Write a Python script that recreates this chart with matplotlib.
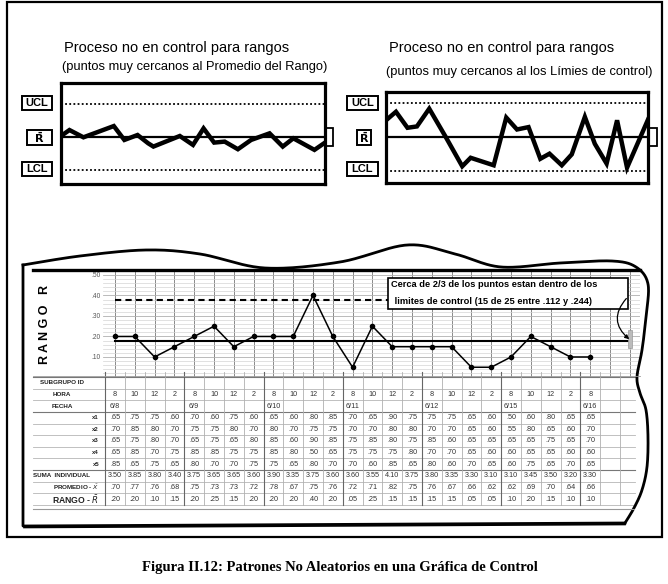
import matplotlib
matplotlib.use("Agg")
import matplotlib.pyplot as plt
from matplotlib.patches import Rectangle, FancyArrowPatch
import numpy as np

W, H = 668, 584
NARROW = ["Liberation Sans Narrow", "Liberation Sans", "DejaVu Sans"]
SANS = ["Liberation Sans", "DejaVu Sans"]
SERIF = ["Liberation Serif", "DejaVu Serif"]

# --- top sketches: position along the chart (0-100) and offset from R-bar (UCL = +1, LCL = -1)
tl_pos = [0, 3.2, 8.5, 20, 24, 29, 33, 35, 45, 50, 54, 58, 62, 67, 72, 79, 84, 88, 96, 100]
tl_val = [0.02, 0.20, -0.02, 0.32, -0.10, 0.05, -0.20, -0.30, 0.02, -0.25,
          0.25, -0.18, -0.15, -0.38, -0.10, 0.10, -0.30, -0.05, -0.40, -0.18]
tr_pos = [0, 3.8, 8.2, 11.8, 16.5, 22.8, 29.1, 32.3, 41.1, 45.9, 50, 54.4,
          58.9, 62.4, 67.1, 70.9, 75.9, 79.7, 84.2, 88.2, 92, 100]
tr_val = [0.49, 0.74, 0.27, 0.31, 0.83, 0.0, -0.86, -0.61, -0.83, 0.57, 0.22, 0.29,
          -0.64, -0.49, -0.83, -0.51, 0.59, -0.20, -0.78, 0.49, -0.90, 0.51]

# --- range chart data table
hora = ["8", "10", "12", "2"] * 6 + ["8"]
fecha = ["6/8", "", "", "", "6/9", "", "", "", "6/10", "", "", "", "6/11", "", "", "",
         "6/12", "", "", "", "6/15", "", "", "", "6/16"]
x1 = [.65, .75, .75, .60, .70, .60, .75, .60, .65, .60, .80, .85, .70, .65, .90, .75, .75, .75, .65, .60, .50, .60, .80, .65, .65]
x2 = [.70, .85, .80, .70, .75, .75, .80, .70, .80, .70, .75, .75, .70, .70, .80, .80, .70, .70, .65, .60, .55, .80, .65, .60, .70]
x3 = [.65, .75, .80, .70, .65, .75, .65, .80, .85, .60, .90, .85, .75, .85, .80, .75, .85, .60, .65, .65, .65, .65, .75, .65, .70]
x4 = [.65, .85, .70, .75, .85, .85, .75, .75, .85, .80, .50, .65, .75, .75, .75, .80, .70, .70, .65, .60, .60, .65, .65, .60, .60]
x5 = [.85, .65, .75, .65, .80, .70, .70, .75, .75, .65, .80, .70, .70, .60, .85, .65, .80, .60, .70, .65, .60, .75, .65, .70, .65]
suma = [3.50, 3.85, 3.80, 3.40, 3.75, 3.65, 3.65, 3.60, 3.90, 3.35, 3.75, 3.60, 3.60,
        3.55, 4.10, 3.75, 3.80, 3.35, 3.30, 3.10, 3.10, 3.45, 3.50, 3.20, 3.30]
promedio = [.70, .77, .76, .68, .75, .73, .73, .72, .78, .67, .75, .76, .72,
            .71, .82, .75, .76, .67, .66, .62, .62, .69, .70, .64, .66]
rango = [.20, .20, .10, .15, .20, .25, .15, .20, .20, .20, .40, .20, .05,
         .25, .15, .15, .15, .15, .05, .05, .10, .20, .15, .10, .10]
r_bar = 0.178
r_ucl = 0.376
r_ticks = [0.10, 0.20, 0.30, 0.40, 0.50]

fig = plt.figure(figsize=(W / 100, H / 100), dpi=100)


def px_axes(x0, y0, x1, y1):
    return fig.add_axes([x0 / W, 1 - y1 / H, (x1 - x0) / W, (y1 - y0) / H])


def dec(v):
    return f"{v:.2f}".lstrip("0")


def small_chart(box, pos, val, ylim):
    ax = px_axes(*box)
    ax.plot(pos, val, color="black", lw=3.2, solid_joinstyle="miter")
    ax.axhline(0, color="black", lw=1.6)
    for v in (1, -1):
        ax.axhline(v, color="black", lw=1.3, ls=(0, (1, 1.3)))
    ax.set_xlim(0, 100)
    ax.set_ylim(*ylim)
    ax.set_xticks([])
    ax.set_yticks([])
    for s in ax.spines.values():
        s.set_linewidth(2.3)
    return ax


small_chart((61, 83, 325, 184), tl_pos, tl_val, (-1.43, 1.62))
small_chart((386, 92, 648, 183), tr_pos, tr_val, (-1.35, 1.32))

# --- range chart
ax = px_axes(103, 270, 640, 377.5)
ax.set_xlim(-0.606, 26.515)
ax.set_ylim(0, 0.524)
ax.set_xticks(range(27))
ax.set_xticklabels([])
ax.set_yticks(r_ticks)
ax.set_yticklabels([dec(v) for v in r_ticks], fontsize=4.8, color="#555555", family=SANS)
ax.set_yticks(np.arange(0.02, 0.52, 0.02), minor=True)
ax.tick_params(length=0, pad=2)
ax.tick_params(which="minor", length=0)
ax.grid(axis="x", color="#8a8a8a", lw=0.7)
ax.grid(axis="y", which="major", color="#b0b0b0", lw=0.6)
ax.grid(axis="y", which="minor", color="#d4d4d4", lw=0.5)
for s in ax.spines.values():
    s.set_visible(False)
ax.plot([0, 26.0], [r_bar, r_bar], color="black", lw=1.5)
ax.plot([0, 13.8], [r_ucl, r_ucl], color="black", lw=1.5, ls=(0, (3, 2)))
ax.plot(range(len(rango)), rango, color="black", lw=1.1, marker="o", ms=3)
ax.add_patch(Rectangle((13.79, 0.334), 12.11, 0.151, facecolor="white",
                       edgecolor="black", lw=1.2, zorder=5))
ax.text(13.92, 0.452, "Cerca de 2/3 de los puntos estan dentro de los", fontsize=6.7,
        fontweight="bold", family=NARROW, va="center", zorder=6)
ax.text(13.98, 0.370, " limites de control (15 de 25 entre .112 y .244)", fontsize=6.7,
        fontweight="bold", family=NARROW, va="center", zorder=6)
ax.add_patch(Rectangle((25.9, 0.145), 0.2, 0.085, facecolor="#bbbbbb", edgecolor="#999999",
                       lw=0.5, zorder=4, clip_on=False))
ax.add_patch(FancyArrowPatch((25.92, 0.395), (26.08, r_bar), connectionstyle="arc3,rad=0.55",
                             arrowstyle="-|>", mutation_scale=6, lw=0.9, color="black",
                             clip_on=False, zorder=6))

# --- data table under the chart (same column scale as the chart)
tb = px_axes(28, 377, 640, 505)
tb.set_xlim(-4.394, 26.515)
tb.set_ylim(11, 0)
tb.axis("off")
for r in range(12):
    dark = r in (0, 3, 8)
    tb.plot([-4.15, 26.26], [r, r], color="#777777" if dark else "#b5b5b5",
            lw=0.8 if dark else 0.6, clip_on=False)
for c in range(27):
    dark = c % 4 == 0
    tb.plot([c - 0.5, c - 0.5], [-0.45, 11], color="#666666" if dark else "#b0b0b0",
            lw=0.8 if dark else 0.6, clip_on=False)

rows = [("SUBGRUPO ID", None), ("HORA", hora), ("FECHA", fecha),
        ("x1", [dec(v) for v in x1]), ("x2", [dec(v) for v in x2]),
        ("x3", [dec(v) for v in x3]), ("x4", [dec(v) for v in x4]),
        ("x5", [dec(v) for v in x5]),
        ("SUMA  INDIVIDUAL", [f"{v:.2f}" for v in suma]),
        ("PROMEDIO - $\\bar{X}$", [dec(v) for v in promedio]),
        ("RANGO - $\\bar{R}$", [dec(v) for v in rango])]
for r, (label, vals) in enumerate(rows):
    y = r + 0.5
    if label.startswith("x"):
        tb.text(-0.8, y, label, ha="right", va="center", fontsize=4.3, fontweight="bold",
                color="#222222", family=SANS)
    elif label.startswith("PROMEDIO") or label.startswith("RANGO"):
        fs = 6.2 if label.startswith("RANGO") else 4.5
        tb.text(-0.8, y, label, ha="right", va="center", fontsize=fs, fontweight="bold",
                color="#222222", family=SANS)
    else:
        tb.text(-2.68, y, label, ha="center", va="center", fontsize=4.5, fontweight="bold",
                color="#222222", family=SANS)
    if vals is None:
        continue
    for c, v in enumerate(vals):
        tb.text(c, y, v, ha="center", va="center", fontsize=5.2, color="#333333", family=SANS)

# --- overlay: frames, labels, titles, caption
ov = fig.add_axes([0, 0, 1, 1])
ov.set_xlim(0, W)
ov.set_ylim(H, 0)
ov.axis("off")

ov.add_patch(Rectangle((7, 2), 655, 535, fill=False, lw=1.6, edgecolor="black"))


def smooth(pts, n=24):
    p = np.asarray(pts, float)
    p = np.vstack([p[0], p, p[-1]])
    t = np.linspace(0, 1, n, endpoint=False)[:, None]
    out = []
    for i in range(1, len(p) - 2):
        p0, p1, p2, p3 = p[i - 1], p[i], p[i + 1], p[i + 2]
        out.append(0.5 * (2 * p1 + (p2 - p0) * t + (2 * p0 - 5 * p1 + 4 * p2 - p3) * t ** 2
                          + (3 * p1 - p0 - 3 * p2 + p3) * t ** 3))
    out.append(p[-2][None])
    return np.vstack(out)


edge = smooth([(23, 265), (80, 256), (146, 250), (200, 254), (265, 268), (340, 262),
               (407, 245), (455, 254), (501, 267), (560, 263), (612, 261), (636, 267),
               (648, 284), (646, 317), (642, 350), (637, 377), (640, 393), (646, 410),
               (648, 437), (647, 467), (642, 490), (634, 508), (625, 523)])
ov.plot(edge[:, 0], edge[:, 1], color="black", lw=2.0)
ov.plot([625, 23, 23], [523, 526, 265], color="black", lw=2.0)
ov.plot([24, 625], [527.5, 524.5], color="black", lw=1.2)

ov.plot([33, 640], [270, 270], color="black", lw=2.4)
ov.plot([33, 640], [375.5, 375.5], color="#999999", lw=0.6)
ov.plot([33, 634], [509, 509], color="#999999", lw=0.8)
ov.text(45, 325, "R A N G O   R", rotation=90, ha="center", va="center", fontsize=9,
        fontweight="bold", family=SANS)


def label_box(x0, y0, x1, y1, txt):
    ov.add_patch(Rectangle((x0, y0), x1 - x0, y1 - y0, fill=False, lw=1.4, edgecolor="black"))
    ov.text((x0 + x1) / 2, (y0 + y1) / 2 + 0.5, txt, ha="center", va="center", fontsize=8,
            fontweight="bold", family=NARROW)


for dx, ux in ((0, (22, 52)), (325, (347, 378))):
    label_box(ux[0], 96, ux[1], 110, "UCL")
    label_box(ux[0], 162, ux[1], 176, "LCL")
rbar_lbl = r"$\mathbf{\bar{R}}$"
label_box(27, 130, 52, 145, rbar_lbl)
label_box(357, 130, 371, 145, rbar_lbl)
ov.add_patch(Rectangle((325, 128), 8, 18, fill=False, lw=1.3))
ov.add_patch(Rectangle((649, 128), 8, 18, fill=False, lw=1.3))

ov.text(64, 48, "Proceso no en control para rangos", fontsize=10.5, family=NARROW, va="center")
ov.text(62, 67, "(puntos muy cercanos al Promedio del Rango)", fontsize=9.3, family=NARROW,
        va="center")
ov.text(389, 48, "Proceso no en control para rangos", fontsize=10.5, family=NARROW, va="center")
ov.text(386, 72, "(puntos muy cercanos al los Límies de control)", fontsize=9.3, family=NARROW,
        va="center")

ov.text(340, 568, "Figura II.12: Patrones No Aleatorios en una Gráfica de Control",
        fontsize=10.5, fontweight="bold", family=SERIF, ha="center", va="center")

fig.savefig("out.png", dpi=100)
